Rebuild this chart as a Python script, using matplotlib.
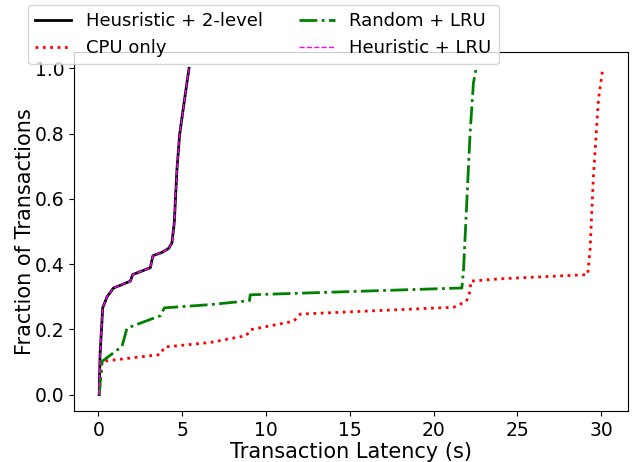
import matplotlib
matplotlib.use('Agg')
import matplotlib.pyplot as plt

# CDF points (latency in s, fraction of transactions)
heur_2level_x = [0.05, 0.1, 0.26, 0.52, 0.91, 1.4, 1.91, 2.05, 3.1, 3.26, 3.8, 4.19, 4.39, 4.53, 4.69, 4.85, 5.13, 5.41]
heur_2level_y = [0.0, 0.12, 0.266, 0.30, 0.327, 0.337, 0.348, 0.368, 0.389, 0.426, 0.436, 0.448, 0.465, 0.527, 0.69, 0.797, 0.9, 1.0]

cpu_x = [0.05, 0.22, 3.7, 3.94, 6.68, 8.83, 9.06, 11.65, 12.05, 21.2, 21.96, 22.18, 22.22, 23.97, 29.2, 29.34, 29.54, 29.84, 30.1]
cpu_y = [0.0, 0.102, 0.123, 0.146, 0.16, 0.181, 0.199, 0.225, 0.247, 0.268, 0.286, 0.317, 0.348, 0.355, 0.368, 0.445, 0.67, 0.905, 1.0]

rand_lru_x = [0.05, 0.22, 1.41, 1.71, 3.7, 3.94, 6.68, 9.02, 9.06, 21.69, 21.79, 22.18, 22.38, 22.54]
rand_lru_y = [0.0, 0.102, 0.148, 0.204, 0.242, 0.266, 0.276, 0.288, 0.306, 0.327, 0.383, 0.80, 0.956, 1.0]

# Heuristic + LRU sits right on top of the 2-level curve
heur_lru_x = heur_2level_x
heur_lru_y = heur_2level_y

fig = plt.figure(figsize=(6.42, 4.62), dpi=100)
ax = fig.add_axes([74 / 642, 1 - 411 / 462, (628 - 74) / 642, (411 - 52) / 462])

ax.plot(heur_2level_x, heur_2level_y, color='black', linestyle='-', linewidth=2, label='Heusristic + 2-level')
ax.plot(cpu_x, cpu_y, color='red', linestyle=':', linewidth=2, label='CPU only')
ax.plot(rand_lru_x, rand_lru_y, color='green', linestyle='-.', linewidth=2, label='Random + LRU')
ax.plot(heur_lru_x, heur_lru_y, color='magenta', linestyle='--', linewidth=1, label='Heuristic + LRU')

ax.set_xlabel('Transaction Latency (s)', fontsize=15, labelpad=2)
ax.set_ylabel('Fraction of Transactions', fontsize=15, labelpad=0)
ax.tick_params(labelsize=13.5)
ax.set_xticks([0, 5, 10, 15, 20, 25, 30])

fig.legend(loc='upper left', bbox_to_anchor=(28 / 642, 1 - 5 / 462), borderaxespad=0,
           ncol=2, fontsize=13)

fig.savefig('out.png', dpi=100)
